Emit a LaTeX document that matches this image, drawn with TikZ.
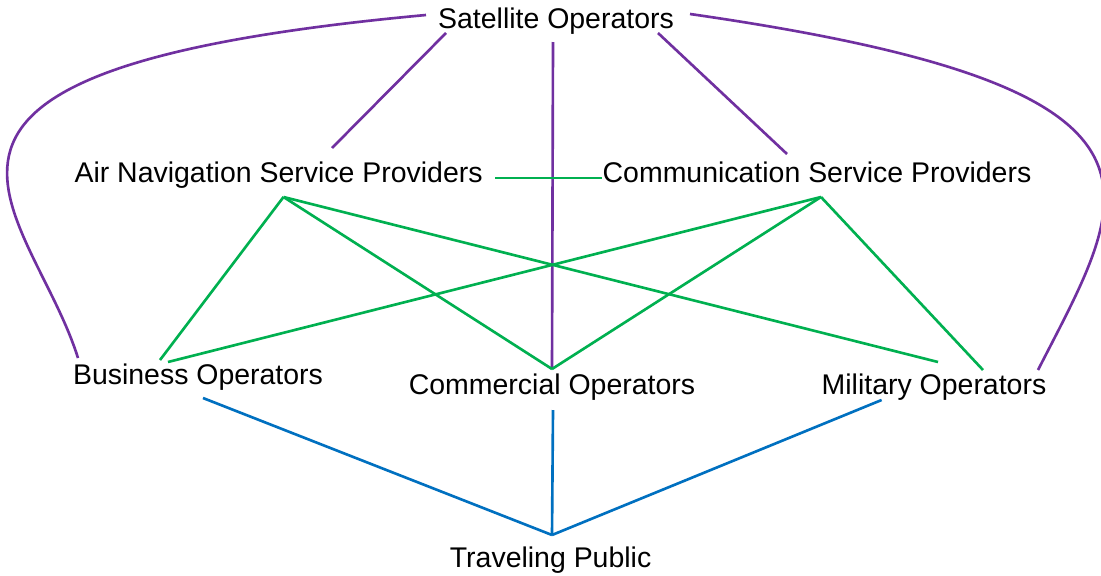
\documentclass[tikz,border=0pt]{standalone}
\usepackage{fontspec}
\setmainfont{Liberation Sans}
\definecolor{satpurple}{HTML}{7030A0}
\definecolor{provgreen}{HTML}{00B050}
\definecolor{pubblue}{HTML}{0070C0}
\begin{document}
\begin{tikzpicture}[x=0.02cm, y=-0.02cm,
    party/.style={anchor=base, inner sep=0pt, font=\fontsize{16.2}{19}\selectfont},
    satlink/.style={satpurple, line width=1.5pt},
    provlink/.style={provgreen, line width=1.5pt},
    publink/.style={pubblue, line width=1.5pt}]
    \fill[white] (0,0) rectangle (1101,575);
    \useasboundingbox (0,0) rectangle (1101,575);

    \node[party] (sat) at (556,28) {Satellite Operators};
    \node[party] (ansp) at (278.6,182) {Air Navigation Service Providers};
    \node[party] (csp) at (817,182) {Communication Service Providers};
    \node[party] (busi) at (198,384) {Business Operators};
    \node[party] (comm) at (552,394) {Commercial Operators};
    \node[party] (mil) at (934,394) {Military Operators};
    \node[party] (pub) at (550.6,567) {Traveling Public};

    \coordinate (sat-w) at (426,15);
    \coordinate (sat-sw) at (446,33);
    \coordinate (sat-s) at (553,42);
    \coordinate (sat-se) at (658,33);
    \coordinate (sat-e) at (690,14);
    \coordinate (ansp-n) at (332,148);
    \coordinate (ansp-e) at (495,178);
    \coordinate (ansp-s) at (283.5,197);
    \coordinate (csp-n) at (787,154);
    \coordinate (csp-w) at (602,178);
    \coordinate (csp-s) at (821,197);
    \coordinate (busi-nw) at (78,358);
    \coordinate (busi-n1) at (160,360);
    \coordinate (busi-n2) at (168,362);
    \coordinate (busi-s) at (203,398);
    \coordinate (comm-n) at (552,369);
    \coordinate (comm-s) at (553,410);
    \coordinate (mil-n1) at (938,362);
    \coordinate (mil-n2) at (983,370);
    \coordinate (mil-ne) at (1038,370);
    \coordinate (mil-s) at (881.6,400);
    \coordinate (pub-n) at (552,535);

    \draw[satlink] (sat-w) .. controls (-170,70) and (30,205) .. (busi-nw);
    \draw[satlink] (sat-e) .. controls (1205,88) and (1130,190) .. (mil-ne);
    \draw[satlink] (sat-sw) -- (ansp-n);
    \draw[satlink] (sat-se) -- (csp-n);
    \draw[satlink] (sat-s) -- (comm-n);

    \draw[provlink] (ansp-e) -- (csp-w);
    \draw[provlink] (ansp-s) -- (busi-n1);
    \draw[provlink] (ansp-s) -- (comm-n);
    \draw[provlink] (ansp-s) -- (mil-n1);
    \draw[provlink] (csp-s) -- (busi-n2);
    \draw[provlink] (csp-s) -- (comm-n);
    \draw[provlink] (csp-s) -- (mil-n2);

    \draw[publink] (busi-s) -- (pub-n);
    \draw[publink] (comm-s) -- (pub-n);
    \draw[publink] (mil-s) -- (pub-n);
\end{tikzpicture}
\end{document}
